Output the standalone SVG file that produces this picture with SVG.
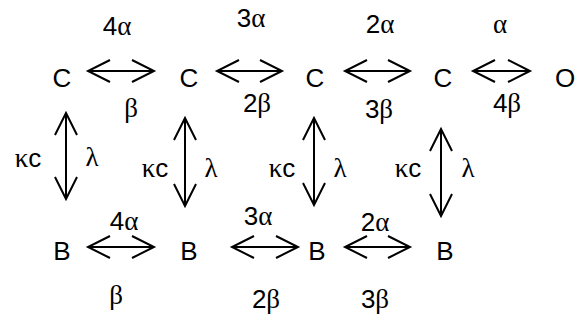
<svg xmlns="http://www.w3.org/2000/svg" width="578" height="320" viewBox="0 0 578 320">
<defs>
<style>
.n{font-family:"Liberation Sans",Arial,sans-serif;font-size:26px;fill:#000;text-anchor:middle}
.l{font-family:"Liberation Sans",Arial,sans-serif;font-size:26px;fill:#000;text-anchor:middle}
.g{font-family:"Liberation Serif","Times New Roman",serif;font-size:27px}
.a{stroke:#000;stroke-width:2;fill:none;marker-start:url(#h);marker-end:url(#h)}
</style>
<marker id="h" markerUnits="userSpaceOnUse" markerWidth="30" markerHeight="30" refX="24" refY="12" orient="auto-start-reverse" viewBox="0 0 30 30">
<path d="M2,1 L24,12 L2,23" fill="none" stroke="#000" stroke-width="2"/>
</marker>
</defs>
<rect width="578" height="320" fill="#fff"/>
<g id="nodes">
<g id="C4"><text class="n" x="62" y="87">C</text></g>
<g id="C3"><text class="n" x="189" y="87">C</text></g>
<g id="C2"><text class="n" x="315" y="87">C</text></g>
<g id="C1"><text class="n" x="443" y="87">C</text></g>
<g id="O"><text class="n" x="565" y="87">O</text></g>
<g id="B4"><text class="n" x="62" y="260">B</text></g>
<g id="B3"><text class="n" x="189" y="260">B</text></g>
<g id="B2"><text class="n" x="317" y="260">B</text></g>
<g id="B1"><text class="n" x="445" y="260">B</text></g>
</g>
<g id="connectors">
<line class="a" x1="88" y1="71" x2="154" y2="71"/>
<line class="a" x1="217" y1="71" x2="282" y2="71"/>
<line class="a" x1="345" y1="71" x2="410" y2="71"/>
<line class="a" x1="473" y1="71" x2="530" y2="71"/>
<line class="a" x1="88" y1="247" x2="154" y2="247"/>
<line class="a" x1="232" y1="247" x2="298" y2="247"/>
<line class="a" x1="345" y1="247" x2="410" y2="247"/>
<line class="a" x1="66" y1="113" x2="66" y2="199"/>
<line class="a" x1="185" y1="118" x2="185" y2="206"/>
<line class="a" x1="314" y1="118" x2="314" y2="205"/>
<line class="a" x1="441" y1="129" x2="441" y2="216"/>
</g>
<g id="labels">
<text class="l" x="117" y="35">4<tspan class="g">α</tspan></text>
<text class="l" x="251" y="27">3<tspan class="g">α</tspan></text>
<text class="l" x="380" y="33">2<tspan class="g">α</tspan></text>
<text class="l" x="500" y="33"><tspan class="g">α</tspan></text>
<text class="l" x="131" y="117"><tspan class="g">β</tspan></text>
<text class="l" x="257" y="112">2<tspan class="g">β</tspan></text>
<text class="l" x="379" y="118">3<tspan class="g">β</tspan></text>
<text class="l" x="507" y="112">4<tspan class="g">β</tspan></text>
<text class="l" x="28" y="167"><tspan class="g">κ</tspan>c</text>
<text class="l" x="155" y="177"><tspan class="g">κ</tspan>c</text>
<text class="l" x="282" y="177"><tspan class="g">κ</tspan>c</text>
<text class="l" x="408" y="177"><tspan class="g">κ</tspan>c</text>
<text class="l g" x="92" y="166">λ</text>
<text class="l g" x="211" y="177">λ</text>
<text class="l g" x="340" y="177">λ</text>
<text class="l g" x="468" y="177">λ</text>
<text class="l" x="124" y="230">4<tspan class="g">α</tspan></text>
<text class="l" x="258" y="225">3<tspan class="g">α</tspan></text>
<text class="l" x="375" y="231">2<tspan class="g">α</tspan></text>
<text class="l" x="116" y="304"><tspan class="g">β</tspan></text>
<text class="l" x="266" y="308">2<tspan class="g">β</tspan></text>
<text class="l" x="375" y="308">3<tspan class="g">β</tspan></text>
</g>
</svg>
